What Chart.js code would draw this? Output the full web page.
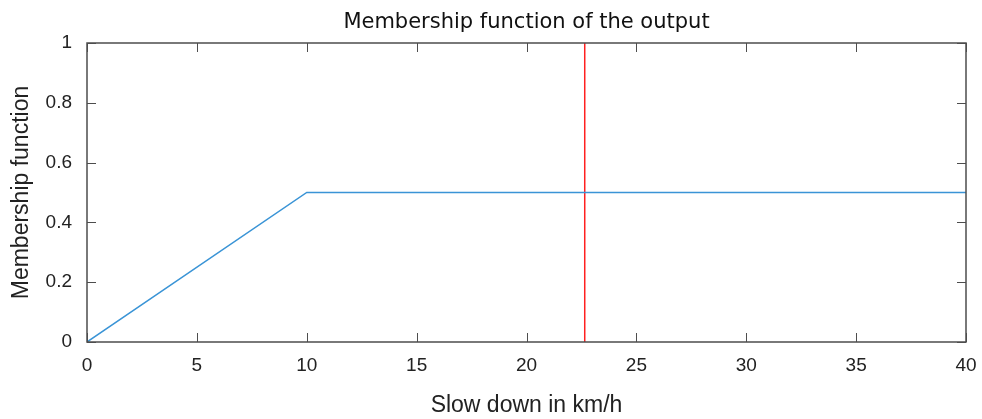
<!DOCTYPE html>
<html>
<head>
<meta charset="utf-8">
<script src="https://cdn.jsdelivr.net/npm/chart.js@4"></script>
<style>
  html, body { margin: 0; padding: 0; background: #fff; }
  #wrap { width: 982px; height: 419px; }
</style>
</head>
<body>
<div id="wrap"><canvas id="grafico"></canvas></div>
<script>
// datos
const membershipX = [0, 10, 40];
const membershipY = [0, 0.5, 0.5];
const cutX = [22.65, 22.65];
const cutY = [0, 1];
const xTicks = [0, 5, 10, 15, 20, 25, 30, 35, 40];
const yTicks = [0, 0.2, 0.4, 0.6, 0.8, 1];
const chartTitle = "Membership function of the output";

const axisColor = "#4d4d4d";
const fontFamily = "'Liberation Sans', Arial, sans-serif";
const titleFont = "'DejaVu Sans', sans-serif";

// marco, marcas hacia adentro y titulo centrado sobre el area del grafico
const boxTicks = {
  id: "boxTicks",
  afterDraw(chart) {
    const { ctx, chartArea: a, scales } = chart;
    const len = 9;
    ctx.save();
    ctx.strokeStyle = axisColor;
    ctx.lineWidth = 1;
    ctx.beginPath();
    xTicks.forEach((v) => {
      const px = Math.round(scales.x.getPixelForValue(v)) + 0.5;
      ctx.moveTo(px, a.bottom); ctx.lineTo(px, a.bottom - len);
      ctx.moveTo(px, a.top); ctx.lineTo(px, a.top + len);
    });
    yTicks.forEach((v) => {
      const py = Math.round(scales.y.getPixelForValue(v)) + 0.5;
      ctx.moveTo(a.left, py); ctx.lineTo(a.left + len, py);
      ctx.moveTo(a.right, py); ctx.lineTo(a.right - len, py);
    });
    ctx.stroke();
    ctx.lineWidth = 1.5;
    ctx.strokeRect(a.left, a.top, a.right - a.left, a.bottom - a.top);

    ctx.fillStyle = "#111";
    ctx.font = "21px " + titleFont;
    ctx.textAlign = "center";
    ctx.textBaseline = "alphabetic";
    ctx.fillText(chartTitle, (a.left + a.right) / 2, 28);
    ctx.restore();
  },
};

const toPoints = (xs, ys) => xs.map((x, i) => ({ x: x, y: ys[i] }));

new Chart(document.getElementById("grafico"), {
  type: "line",
  data: {
    datasets: [
      {
        data: toPoints(membershipX, membershipY),
        borderColor: "#3a94d6",
        borderWidth: 1.5,
        pointRadius: 0,
        tension: 0,
      },
      {
        data: toPoints(cutX, cutY),
        borderColor: "#ff2020",
        borderWidth: 1.5,
        pointRadius: 0,
      },
    ],
  },
  options: {
    responsive: true,
    maintainAspectRatio: false,
    animation: false,
    layout: { padding: { left: 0, right: 16, top: 43, bottom: 0 } },
    plugins: {
      legend: { display: false },
      tooltip: { enabled: false },
      title: { display: false },
    },
    scales: {
      x: {
        type: "linear",
        min: 0,
        max: 40,
        afterFit: (s) => {
          s.height = 77;
          s.paddingLeft = 0;
          s.paddingRight = 0;
        },
        afterBuildTicks: (s) => { s.ticks = xTicks.map((v) => ({ value: v })); },
        grid: { display: false, drawTicks: false },
        border: { display: false },
        ticks: {
          color: "#222",
          padding: 12,
          font: { family: fontFamily, size: 19 },
          callback: (v) => String(v),
        },
        title: {
          display: true,
          text: "Slow down in km/h",
          color: "#222",
          font: { family: fontFamily, size: 23 },
          padding: { top: 0, bottom: 0 },
        },
      },
      y: {
        type: "linear",
        min: 0,
        max: 1,
        afterFit: (s) => {
          s.width = 87;
          s.paddingTop = 0;
          s.paddingBottom = 0;
        },
        afterBuildTicks: (s) => { s.ticks = yTicks.map((v) => ({ value: v })); },
        grid: { display: false, drawTicks: false },
        border: { display: false },
        ticks: {
          color: "#222",
          padding: 15,
          font: { family: fontFamily, size: 19 },
          callback: (v) => String(v),
        },
        title: {
          display: true,
          text: "Membership function",
          color: "#222",
          font: { family: fontFamily, size: 23 },
          padding: { top: 8, bottom: 0 },
        },
      },
    },
  },
  plugins: [boxTicks],
});
</script>
</body>
</html>
